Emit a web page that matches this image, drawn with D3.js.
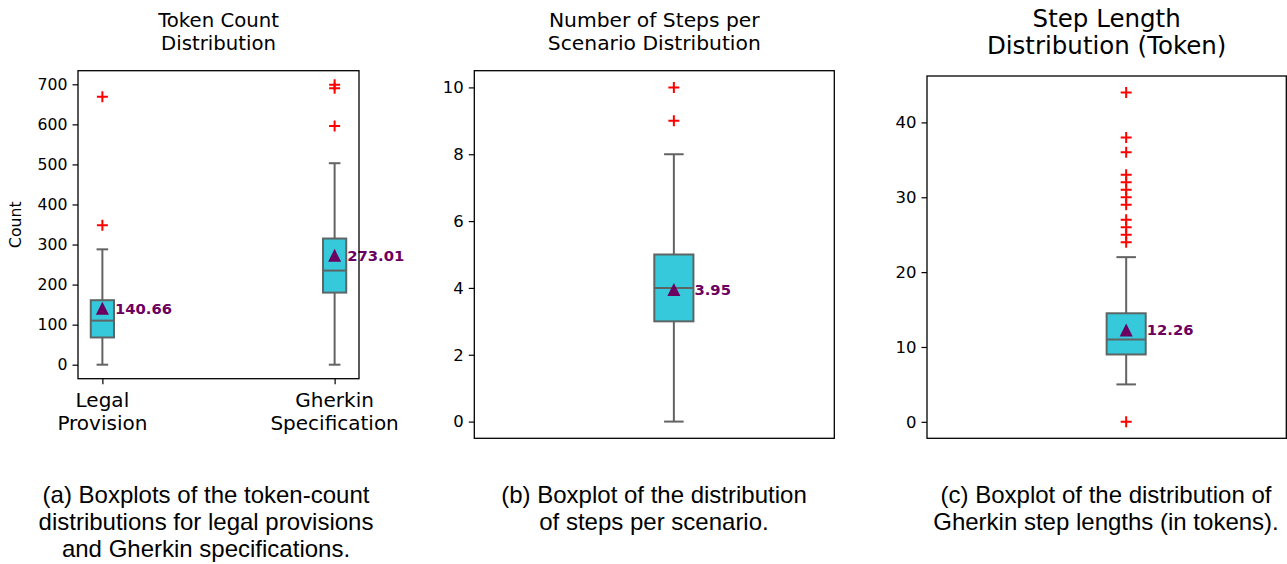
<!DOCTYPE html>
<html lang="en">
<head>
<meta charset="UTF-8">
<title>Boxplots with d3.js</title>
<script src="https://d3js.org/d3.v7.min.js"></script>
<style>
  body { margin: 0; background: #fff; }
  svg { display: block; }
  text { font-family: "DejaVu Sans", sans-serif; }
  .caption { font-family: "Liberation Sans", Arial, sans-serif; font-size: 24px; fill: #000; }
</style>
</head>
<body>
<div id="chart"></div>
<script>
// (a) token counts
const tokenCategories = [["Legal", "Provision"], ["Gherkin", "Specification"]];
const tokenLow = [0, 0];
const tokenQ1 = [68, 180];
const tokenMedian = [110, 235];
const tokenQ3 = [161, 315];
const tokenHigh = [288, 503];
const tokenMean = [140.66, 273.01];
const tokenOutliers = [[348, 669], [596, 690, 699]];

// (b) steps per scenario
const stepsLow = [0];
const stepsQ1 = [3];
const stepsMedian = [4];
const stepsQ3 = [5];
const stepsHigh = [8];
const stepsMean = [3.95];
const stepsOutliers = [[9, 10]];

// (c) step length
const lenLow = [5];
const lenQ1 = [9];
const lenMedian = [11];
const lenQ3 = [14.5];
const lenHigh = [22];
const lenMean = [12.26];
const lenOutliers = [[0, 24, 25, 26, 27, 29, 30, 31, 32, 33, 36, 38, 44]];

const width = 1287, height = 564;

const svg = d3.select("#chart").append("svg")
  .attr("width", width)
  .attr("height", height);

function drawPanel(p) {
  const g = svg.append("g");
  const n = p.low.length;
  const positions = d3.range(1, n + 1);

  // y extent like matplotlib autoscale (5% margin)
  const allVals = p.low.concat(p.high, ...p.outliers);
  const [lo, hi] = d3.extent(allVals);
  const pad = (hi - lo) * 0.05;
  const y = d3.scaleLinear().domain([lo - pad, hi + pad]).range([p.bottom, p.top]);
  const x = d3.scaleLinear().domain(p.xDomain).range([p.left, p.right]);

  const boxW = x(1 + p.boxWidth / 2) - x(1 - p.boxWidth / 2);

  // y axis
  const yAxis = d3.axisLeft(y).tickValues(p.yTicks).tickSize(5.5).tickPadding(5);
  const ya = g.append("g").attr("transform", `translate(${p.left},0)`).call(yAxis);
  ya.select(".domain").remove();
  ya.selectAll("line").attr("stroke", "#000").attr("stroke-width", 1.2);
  ya.selectAll("text")
    .style("font-size", p.tickSize + "px")
    .style("font-family", "DejaVu Sans")
    .style("fill", "#000");

  if (p.categories) {
    const xAxis = d3.axisBottom(x).tickValues(positions).tickSize(5.5).tickFormat("");
    const xa = g.append("g").attr("transform", `translate(0,${p.bottom})`).call(xAxis);
    xa.select(".domain").remove();
    xa.selectAll("line").attr("stroke", "#000").attr("stroke-width", 1.2);
    positions.forEach((pos, i) => {
      const t = g.append("text")
        .attr("x", x(pos))
        .attr("y", p.bottom + 28)
        .attr("text-anchor", "middle")
        .style("font-size", "20px")
        .style("fill", "#000");
      p.categories[i].forEach((line, j) => {
        t.append("tspan").attr("x", x(pos)).attr("dy", j === 0 ? 0 : 23.5).text(line);
      });
    });
  }

  if (p.yLabel) {
    g.append("text")
      .attr("transform", `translate(${p.left - 57},${(p.top + p.bottom) / 2}) rotate(-90)`)
      .attr("text-anchor", "middle")
      .style("font-size", p.tickSize + "px")
      .style("fill", "#000")
      .text(p.yLabel);
  }

  // title
  const tt = g.append("text")
    .attr("x", (p.left + p.right) / 2)
    .attr("y", p.titleY)
    .attr("text-anchor", "middle")
    .style("font-size", p.titleSize + "px")
    .style("fill", "#000");
  p.title.forEach((line, j) => {
    tt.append("tspan").attr("x", (p.left + p.right) / 2).attr("dy", j === 0 ? 0 : p.titleGap).text(line);
  });

  const grey = "#636363";
  positions.forEach((pos, i) => {
    const cx = x(pos);
    // whiskers
    g.append("line").attr("x1", cx).attr("x2", cx)
      .attr("y1", y(p.q3[i])).attr("y2", y(p.high[i]))
      .attr("stroke", grey).attr("stroke-width", 2);
    g.append("line").attr("x1", cx).attr("x2", cx)
      .attr("y1", y(p.q1[i])).attr("y2", y(p.low[i]))
      .attr("stroke", grey).attr("stroke-width", 2);
    // caps
    [p.low[i], p.high[i]].forEach(v => {
      g.append("line").attr("x1", cx - boxW / 4).attr("x2", cx + boxW / 4)
        .attr("y1", y(v)).attr("y2", y(v))
        .attr("stroke", grey).attr("stroke-width", 2);
    });
    // box
    g.append("rect")
      .attr("x", cx - boxW / 2).attr("width", boxW)
      .attr("y", y(p.q3[i])).attr("height", y(p.q1[i]) - y(p.q3[i]))
      .attr("fill", "#36c9db").attr("stroke", "#5d6565").attr("stroke-width", 2);
    // median
    g.append("line").attr("x1", cx - boxW / 2).attr("x2", cx + boxW / 2)
      .attr("y1", y(p.median[i])).attr("y2", y(p.median[i]))
      .attr("stroke", "#5d6565").attr("stroke-width", 2);
    // outliers
    p.outliers[i].forEach(v => {
      g.append("path")
        .attr("d", `M${cx - 5.5},${y(v)}H${cx + 5.5}M${cx},${y(v) - 5.5}V${y(v) + 5.5}`)
        .attr("stroke", "#ff0000").attr("stroke-width", 2).attr("fill", "none");
    });
    // mean marker and label
    const my = y(p.mean[i]);
    g.append("path")
      .attr("d", `M${cx},${my - 6.5}L${cx + 6.5},${my + 6.5}L${cx - 6.5},${my + 6.5}Z`)
      .attr("fill", "#6b0060");
    g.append("text")
      .attr("x", cx + boxW / 2 + 1)
      .attr("y", my)
      .attr("dy", "0.36em")
      .style("font-size", "14.8px")
      .style("font-weight", "bold")
      .style("fill", "#6b0060")
      .text(p.mean[i].toFixed(2));
  });

  // frame
  g.append("rect")
    .attr("x", p.left).attr("y", p.top)
    .attr("width", p.right - p.left).attr("height", p.bottom - p.top)
    .attr("fill", "none").attr("stroke", "#000").attr("stroke-width", 1.3);

  // caption
  const cap = svg.append("text").attr("class", "caption")
    .attr("x", p.capX).attr("y", 503).attr("text-anchor", "middle");
  p.caption.forEach((line, j) => {
    cap.append("tspan").attr("x", p.capX).attr("dy", j === 0 ? 0 : 27).text(line);
  });
}

drawPanel({
  low: tokenLow, q1: tokenQ1, median: tokenMedian, q3: tokenQ3, high: tokenHigh,
  mean: tokenMean, outliers: tokenOutliers, categories: tokenCategories,
  left: 78, right: 359, top: 70.7, bottom: 378.7,
  xDomain: [0.895, 2.105], boxWidth: 0.1,
  yTicks: d3.range(0, 701, 100), yLabel: "Count", tickSize: 15.7,
  title: ["Token Count", "Distribution"], titleY: 26.7, titleSize: 19.7, titleGap: 23.5,
  caption: ["(a) Boxplots of the token-count", "distributions for legal provisions", "and Gherkin specifications."],
  capX: 206
});

drawPanel({
  low: stepsLow, q1: stepsQ1, median: stepsMedian, q3: stepsQ3, high: stepsHigh,
  mean: stepsMean, outliers: stepsOutliers,
  left: 474.3, right: 834.3, top: 70.7, bottom: 438.3,
  xDomain: [0.49, 1.41], boxWidth: 0.1,
  yTicks: d3.range(0, 11, 2), tickSize: 16.5,
  title: ["Number of Steps per", "Scenario Distribution"], titleY: 26.7, titleSize: 20.3, titleGap: 23.5,
  caption: ["(b) Boxplot of the distribution", "of steps per scenario."],
  capX: 654
});

drawPanel({
  low: lenLow, q1: lenQ1, median: lenMedian, q3: lenQ3, high: lenHigh,
  mean: lenMean, outliers: lenOutliers,
  left: 927, right: 1286.3, top: 76, bottom: 438.3,
  xDomain: [0.49, 1.41], boxWidth: 0.1,
  yTicks: d3.range(0, 41, 10), tickSize: 16.5,
  title: ["Step Length", "Distribution (Token)"], titleY: 26.7, titleSize: 24.5, titleGap: 27.7,
  caption: ["(c) Boxplot of the distribution of", "Gherkin step lengths (in tokens)."],
  capX: 1106
});
</script>
</body>
</html>
